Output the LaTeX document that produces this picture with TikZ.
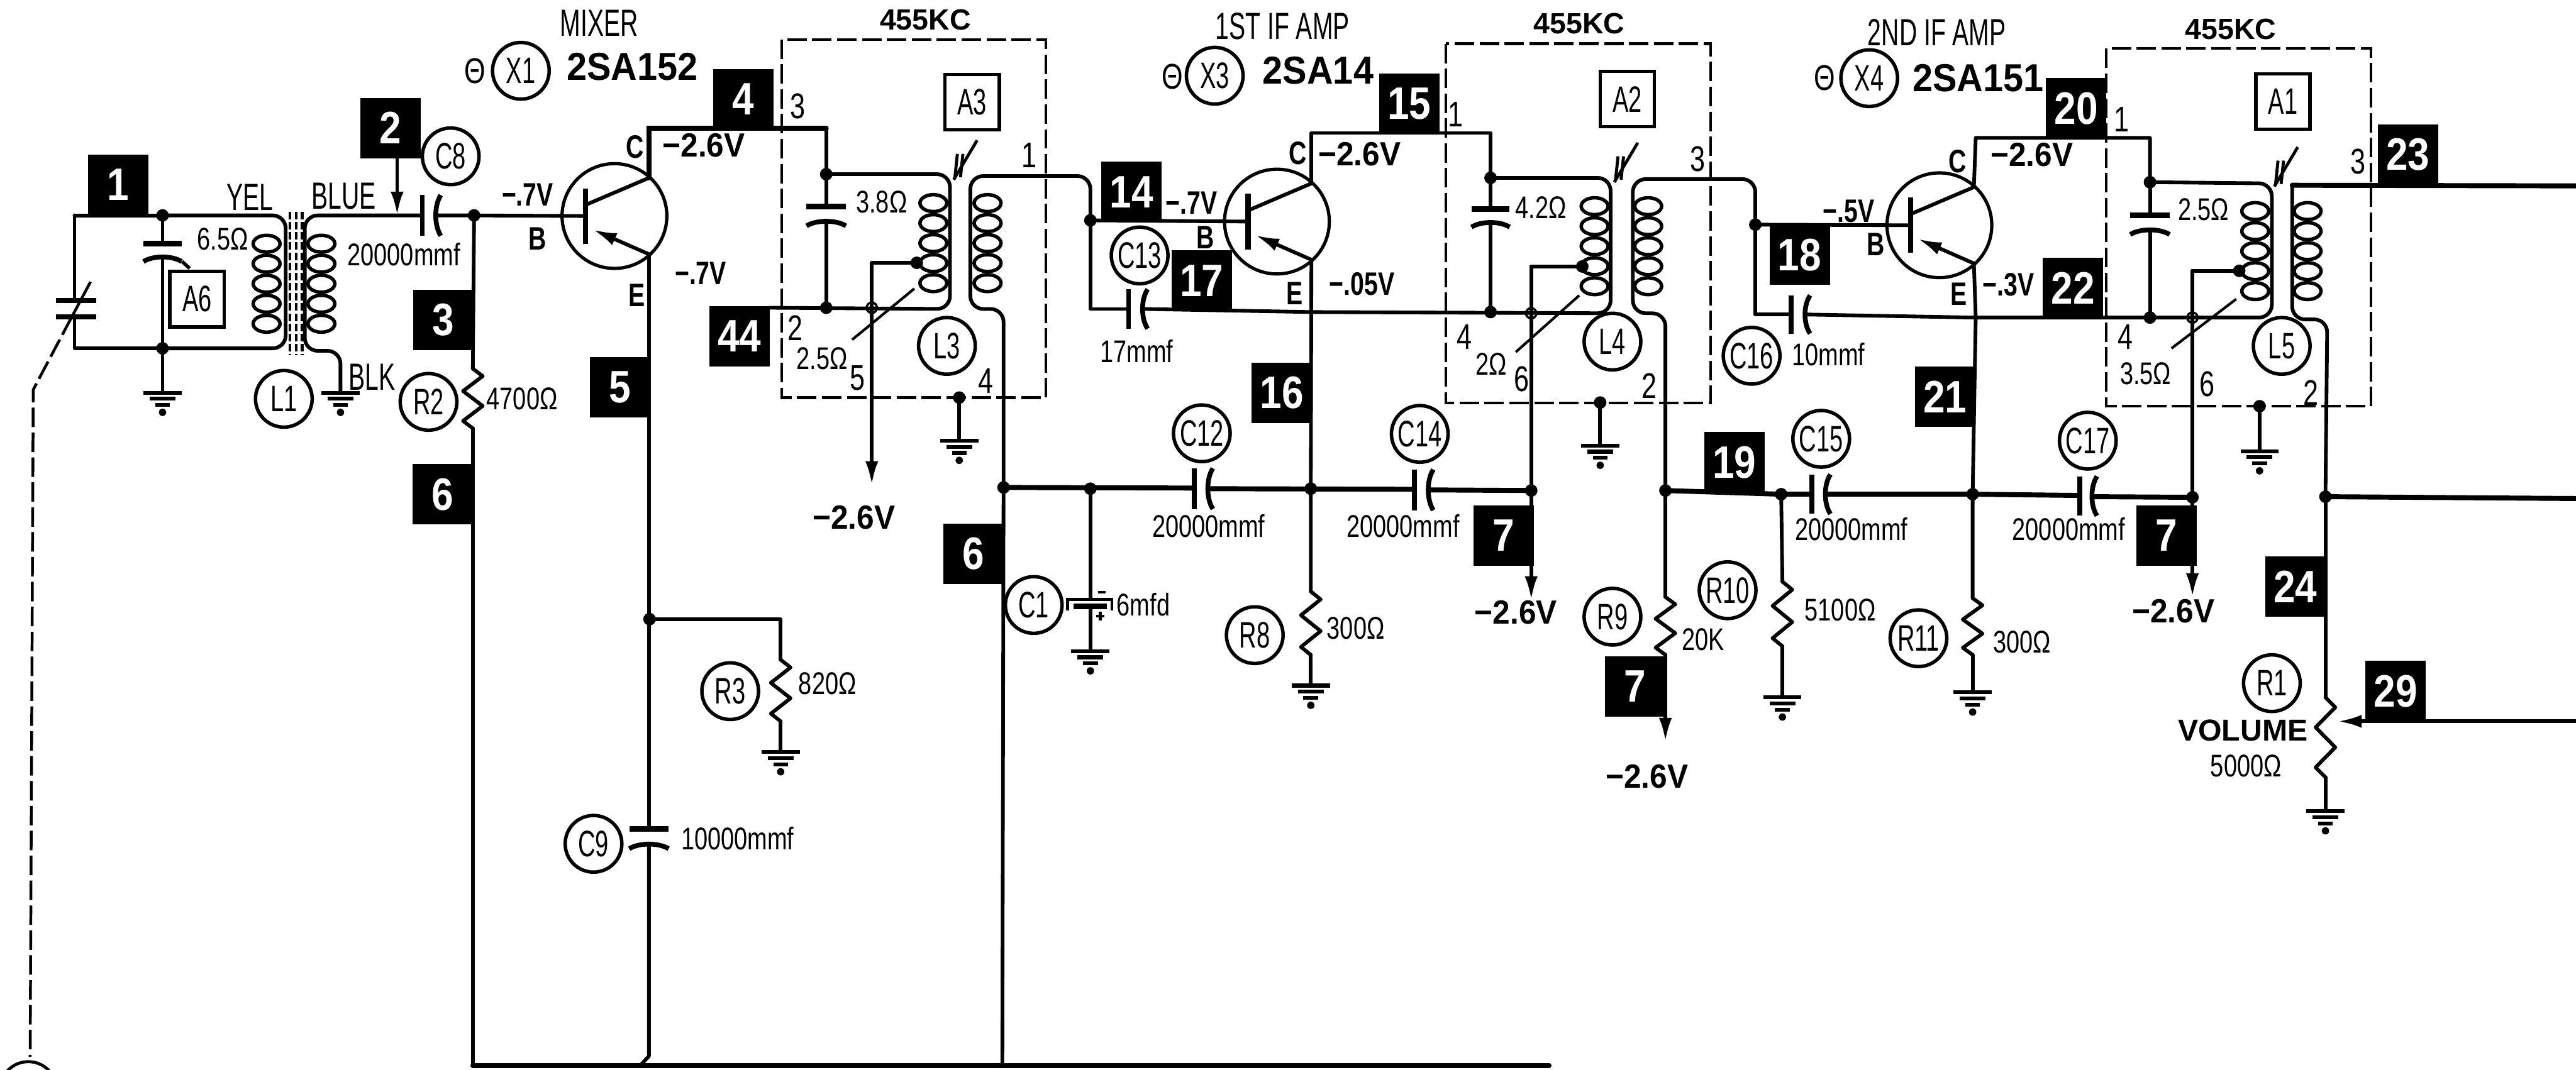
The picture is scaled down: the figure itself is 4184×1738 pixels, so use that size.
\documentclass[tikz,border=0pt]{standalone}
\usepackage{fontspec}
\usetikzlibrary{arrows.meta}
\setmainfont{Liberation Sans}
\newfontfamily\fa[FakeStretch=0.65]{Liberation Sans}
\newfontfamily\fb[FakeStretch=0.76]{Liberation Sans}
\newfontfamily\fc[FakeStretch=0.93]{Liberation Sans}
\newfontfamily\fn[FakeStretch=0.86]{Liberation Sans}
\newcommand\fsz[1]{\fontsize{#1pt}{#1pt}\selectfont}
\tikzset{
  wire/.style={line width=1.7pt,line join=round,line cap=round},
  lead/.style={wire,rounded corners=6pt},
  heavy/.style={line width=2.3pt,line cap=round},
  arr/.style={-{Latex[length=11pt,width=6pt]}},
  numbox/.style={fill=black,text=white,inner sep=0pt,minimum width=.98cm,minimum height=.98cm,font=\fn\bfseries\fsz{21}},
  refc/.style={draw,circle,line width=1.6pt,inner sep=0pt,minimum size=.92cm,font=\fa\fsz{17}},
  refb/.style={draw,line width=1.6pt,inner sep=0pt,minimum width=.88cm,minimum height=.9cm,font=\fa\fsz{17}},
  tall/.style={inner sep=0pt,font=\fa\fsz{17.5}},
  val/.style={inner sep=0pt,font=\fb\fsz{14.5}},
  pin/.style={inner sep=0pt,font=\fb\fsz{16.5}},
  volt/.style={inner sep=0pt,font=\fc\bfseries\fsz{15.5}},
  tap/.style={inner sep=0pt,font=\fb\bfseries\fsz{15}},
  term/.style={inner sep=0pt,font=\fb\bfseries\fsz{15}},
  head/.style={inner sep=0pt,font=\bfseries\fsz{13.5}},
  type/.style={inner sep=0pt,font=\fc\bfseries\fsz{18}},
  canbox/.style={line width=1.2pt,dash pattern=on 9pt off 2.5pt},
  trans/.pic={
    \draw[line width=1.5pt] (0,0) circle[radius=24.2pt];
    \draw[line width=2.4pt] (-47,-45) -- (-47,45);
    \coordinate (-c) at (56,-62);
    \coordinate (-e) at (56,62);
    \coordinate (-b) at (-47,0);
    \draw[wire] (-47,-18) -- (-c);
    \draw[wire,arr] (-e) -- (-35,22);
  },
  gnd/.pic={
    \draw[line width=1.8pt] (-31,0) -- (31,0);
    \draw[line width=1.8pt] (-21,10) -- (21,10);
    \draw[line width=1.8pt] (-12,20) -- (12,20);
    \fill (0,32) circle[radius=1.7pt];
  },
  coilstack/.pic={
    \foreach \k in {0,...,4}
      \draw[line width=1.6pt] (0,\k*32.5) ellipse[x radius=6.2pt,y radius=3.9pt];
  },
  slug/.pic={
    \draw[line width=1.4pt] (-10,22) -- (-6,-16);
    \draw[line width=1.4pt] (-1,22) -- (3,-16);
    \draw[line width=1.4pt] (-12,26) -- (26,-38);
  },
}
\newcommand\res[3]{%
  \pgfmathsetmacro\rst{(#3-#2)/8}%
  \draw[wire] (#1,#2) -- ++(16,\rst) -- ++(-32,2*\rst) -- ++(32,2*\rst) -- ++(-32,2*\rst) -- ++(16,\rst);}
\newcommand\capH[4]{% y, x flat, x curved, half height
  \draw[line width=2.2pt] (#2,#1-#4) -- (#2,#1+#4);
  \draw[line width=2.2pt] (#3+6,#1-#4) .. controls (#3-5,#1-#4/2) and (#3-5,#1+#4/2) .. (#3+6,#1+#4);}
\newcommand\capV[4]{% x, y flat, y curved, half width
  \draw[line width=2.6pt] (#1-#4,#2) -- (#1+#4,#2);
  \draw[line width=2.2pt] (#1-#4,#3+6) .. controls (#1-#4/2,#3-4) and (#1+#4/2,#3-4) .. (#1+#4,#3+6);}
\begin{document}
\begin{tikzpicture}[x=0.01cm,y=-0.01cm]
\useasboundingbox (0,0) rectangle (4184,1738);
\clip (0,0) rectangle (4184,1738);
\fill[white] (0,0) rectangle (4184,1738);

% ---------- junctions
\coordinate (a1) at (121,350);  \coordinate (a2) at (264,350);
\coordinate (a3) at (121,566);  \coordinate (a4) at (264,566);
\coordinate (b1) at (686,350);  \coordinate (b2) at (645,350);
\coordinate (b3) at (710,350);  \coordinate (b4) at (770,350);
\coordinate (b5) at (553,638);
\coordinate (s1) at (264,638);
\coordinate (bl) at (768,1731); \coordinate (bm) at (1040,1731);
\coordinate (bc) at (1628,1731);\coordinate (br) at (2516,1731);
\coordinate (e1) at (1055,1006);\coordinate (e2) at (1268,1006);
\coordinate (c1) at (1342,208); \coordinate (c2) at (1342,283);
\coordinate (c3) at (1342,500); \coordinate (c4) at (1250,500);
\coordinate (t1) at (1489,427); \coordinate (t2) at (1416,427);
\coordinate (t3) at (1416,788); \coordinate (t4) at (1416,500);
\coordinate (g1) at (1558,646); \coordinate (g1b) at (1558,716);
\coordinate (d1) at (1771,358); \coordinate (d2) at (1630,792);
\coordinate (d3) at (1771,794); \coordinate (d4) at (2129,794);
\coordinate (d5) at (2487,797); \coordinate (d6) at (2705,797);
\coordinate (d7) at (2893,803); \coordinate (d8) at (3204,803);
\coordinate (d9) at (3561,808); \coordinate (d10) at (3777,807);
\coordinate (f1) at (2421,216); \coordinate (f2) at (2421,289);
\coordinate (f3) at (2421,507); \coordinate (f4) at (2130,507);
\coordinate (u1) at (2570,433); \coordinate (u2) at (2487,433);
\coordinate (u3) at (2487,975); \coordinate (u4) at (2487,509);
\coordinate (g2) at (2599,654); \coordinate (g2b) at (2599,724);
\coordinate (h1) at (2851,365); \coordinate (k1) at (3492,224);
\coordinate (k2) at (3492,296); \coordinate (k3) at (3492,516);
\coordinate (k4) at (3209,516);
\coordinate (v1) at (3637,440); \coordinate (v2) at (3561,440);
\coordinate (v3) at (3561,970); \coordinate (v4) at (3561,516);
\coordinate (g3) at (3670,660); \coordinate (g3b) at (3670,733);
\coordinate (w1) at (3797,1172);\coordinate (w2) at (4184,1172);
\coordinate (o1) at (4184,302); \coordinate (o2) at (4184,810);

% ---------- tuned boxes
\draw[canbox] (1270,64) rectangle (1699,646);
\draw[canbox] (2348,71) rectangle (2778,655);
\draw[canbox] (3421,79) rectangle (3851,660);

% ---------- input stage
\draw[wire] (a1) -- (a2);
\draw[wire] (a1) -- (121,488);
\draw[wire] (121,515) -- (a3) -- (a4);
\draw[line width=2.4pt] (91,488) -- (156,488);
\draw[line width=2.4pt] (91,515) -- (156,515);
\draw[line width=1.3pt] (147,458) -- (116,516);
\draw[line width=1.3pt,dash pattern=on 9pt off 2.5pt] (116,516) -- (54,633) -- (49,1717);
\draw[line width=1.4pt] (46,1771) circle[radius=.46cm];
\draw[wire] (a2) -- (264,396);
\draw[wire] (264,419) -- (a4) -- (s1);
\capV{264}{396}{419}{31}
\draw[line width=1.6pt] (296,425) -- (308,436);
\pic at (s1) {gnd};
\pic at (b5) {gnd};
\pic at (433,396) {coilstack};
\pic at (522,396) {coilstack};
\draw[lead] (a2) -- (464,350) -- (464,566) -- (a4);
\draw[lead] (b1) -- (495,350) -- (495,570) -- (553,570) -- (b5);
\foreach \x in {471,481,491}
  \draw[line width=1.3pt,dash pattern=on 3.5pt off 1.2pt] (\x,344) -- (\x,577);
\capH{350}{686}{710}{33}
\pic (x1) at (998,351) {trans};
\draw[wire] (b3) -- (b4) -- (x1-b);
\draw[wire] (b4) -- (768,599);
\res{768}{599}{696}
\draw[wire] (768,696) -- (bl);
\draw[heavy] (bl) -- (br);
\draw[wire] (x1-e) -- (1054,1347);
\draw[wire] (1054,1373) -- (1054,1716) -- (bm);
\capV{1054}{1347}{1373}{32}
\draw[wire] (e1) -- (e2) -- (1268,1072);
\res{1268}{1072}{1172}
\draw[wire] (1268,1172) -- (1268,1222);
\pic at (1268,1222) {gnd};
\draw[heavy] (x1-c) |- (c1);
\draw[wire] (c1) -- (c2);

% ---------- L3
\draw[lead] (c2) -- (1543,283) -- (1543,502) -- (c4);
\draw[wire] (c2) -- (1342,336);
\draw[wire] (1342,361) -- (c3);
\capV{1342}{336}{361}{32}
\pic at (1516,330) {coilstack};
\pic at (1604,330) {coilstack};
\pic at (1561,266) {slug};
\draw[lead] (d1) -- (1771,286) -- (1576,286) -- (1576,502) -- (1630,502) -- (d2);
\draw[wire] (d2) -- (bc);
\draw[wire] (t1) -- (t2);
\draw[wire,arr] (t2) -- (t3);
\draw[line width=1.2pt] (1485,469) -- (1384,552);
\draw[wire] (g1) -- (g1b);
\pic at (g1b) {gnd};

% ---------- 1st IF
\pic (x3) at (2074,360) {trans};
\draw[wire] (d1) -- (x3-b);
\draw[wire] (d1) -- (1771,502) -- (1833,502);
\capH{502}{1833}{1858}{32}
\draw[wire] (1858,502) -- (f4);
\draw[heavy] (d2) -- (1940,793);
\capH{794}{1940}{1964}{33}
\draw[heavy] (1964,794) -- (2297,795);
\capH{796}{2297}{2322}{33}
\draw[heavy] (2322,796) -- (d5);
\draw[wire] (d3) -- (1771,972);
\draw[wire] (1771,985) -- (1771,1058);
\draw[line width=1.3pt] (1734,992) -- (1734,974) -- (1806,974) -- (1806,992);
\draw[line width=2.6pt] (1744,985) -- (1798,985);
\draw[line width=1.2pt] (1784,962) -- (1796,962);
\draw[line width=1.2pt] (1780,1001) -- (1794,1001) (1787,994) -- (1787,1008);
\pic at (1771,1058) {gnd};
\draw[wire] (x3-e) -- (d4) -- (2129,961);
\res{2129}{961}{1064}
\draw[wire] (2129,1064) -- (2129,1114);
\pic at (2129,1114) {gnd};
\draw[wire] (x3-c) |- (f1) -- (f2);
\draw[wire] (f2) -- (2421,340);
\draw[wire] (2421,363) -- (f3);
\capV{2421}{340}{363}{31}

% ---------- L4
\draw[lead] (f2) -- (2616,289) -- (2616,509) -- (f4);
\pic at (2590,335) {coilstack};
\pic at (2677,335) {coilstack};
\pic at (2634,270) {slug};
\draw[wire] (u1) -- (u2);
\draw[wire,arr] (u2) -- (u3);
\draw[line width=1.2pt] (2565,480) -- (2462,572);
\draw[lead] (d6) -- (2705,509) -- (2652,509) -- (2652,291) -- (2851,291) -- (h1);
\draw[wire] (g2) -- (g2b);
\pic at (g2b) {gnd};
\draw[wire] (d6) -- (2705,970);
\res{2705}{970}{1064}
\draw[wire,arr] (2705,1064) -- (2705,1205);

% ---------- 2nd IF
\pic (x4) at (3150,366) {trans};
\draw[wire] (h1) -- (x4-b);
\draw[wire] (h1) -- (2851,511) -- (2909,511);
\capH{511}{2909}{2934}{31}
\draw[wire] (2934,511) -- (k4);
\draw[heavy] (d6) -- (d7) -- (2943,803);
\capH{803}{2943}{2967}{32}
\draw[heavy] (2967,803) -- (d8) -- (3378,805);
\capH{806}{3378}{3400}{32}
\draw[heavy] (3400,807) -- (d9);
\draw[wire] (d7) -- (2895,945);
\res{2895}{945}{1050}
\draw[wire] (2895,1050) -- (2895,1133);
\pic at (2895,1133) {gnd};
\draw[wire] (x4-e) -- (k4) -- (d8) -- (3204,972);
\res{3204}{972}{1064}
\draw[wire] (3204,1064) -- (3204,1125);
\pic at (3204,1125) {gnd};
\draw[wire] (x4-c) -- (3209,224) -- (k1) -- (k2);
\draw[wire] (k2) -- (3492,350);
\draw[wire] (3492,375) -- (k3);
\capV{3492}{350}{375}{32}

% ---------- L5
\draw[lead] (k2) -- (3690,298) -- (3690,516) -- (k4);
\pic at (3663,343) {coilstack};
\pic at (3748,343) {coilstack};
\pic at (3706,277) {slug};
\draw[wire] (v1) -- (v2);
\draw[wire,arr] (v2) -- (v3);
\draw[line width=1.2pt] (3632,486) -- (3527,566);
\draw[heavy] (3723,301) -- (o1);
\draw[lead] (3723,301) -- (3723,519) -- (3780,519) -- (d10);
\draw[heavy] (d10) -- (o2);
\draw[wire] (d10) -- (3777,1133);
\res{3777}{1133}{1263}
\draw[wire] (3777,1263) -- (3777,1318);
\pic at (3777,1318) {gnd};
\draw[wire] (g3) -- (g3b);
\pic at (g3b) {gnd};

% ---------- dots and crossings
\foreach \p in {a2,a4,b4,e1,c2,c3,t1,g1,d1,d2,d3,d4,d5,d6,d7,d8,d9,d10,f2,f3,u1,g2,h1,k2,k3,v1,g3}
  \fill (\p) circle[radius=2.9pt];
\foreach \p in {t4,u4,v4}
  \draw[line width=1pt] (\p) circle[radius=2.4pt];

% ---------- block numbers
\node[numbox] (n1) at (192,300) {1};
\node[numbox] (n2) at (634,208) {2};
\node[numbox] (n3) at (720,520) {3};
\node[numbox] (n6a) at (719,803) {6};
\node[numbox] (n4) at (1207,161) {4};
\node[numbox] (n5) at (1007,629) {5};
\node[numbox] (n44) at (1201,546) {44};
\node[numbox] (n14) at (1838,312) {14};
\node[numbox] (n15) at (2289,169) {15};
\node[numbox] (n16) at (2082,638) {16};
\node[numbox] (n17) at (1952,456) {17};
\node[numbox] (n6b) at (1581,900) {6};
\node[numbox] (n7a) at (2442,870) {7};
\node[numbox] (n7b) at (2656,1115) {7};
\node[numbox] (n18) at (2923,414) {18};
\node[numbox] (n19) at (2817,751) {19};
\node[numbox] (n20) at (3372,176) {20};
\node[numbox] (n21) at (3159,645) {21};
\node[numbox] (n22) at (3367,468) {22};
\node[numbox] (n23) at (3911,251) {23};
\node[numbox] (n24) at (3728,953) {24};
\node[numbox] (n29) at (3891,1123) {29};
\node[numbox] (n7c) at (3519,870) {7};
\draw[wire,arr] (n2.south -| b2) -- (b2);
\draw[wire,arr] (w2) -- (w1);

% ---------- reference circles and boxes
\node[refc] (rX1) at (846,115) {X1};
\node[refc] (rC8) at (732,254) {C8};
\node[refc] (rL1) at (461,648) {L1};
\node[refc] (rR2) at (696,653) {R2};
\node[refc] (rR3) at (1186,1123) {R3};
\node[refc] (rC9) at (964,1371) {C9};
\node[refc] (rL3) at (1538,562) {L3};
\node[refc] (rX3) at (1973,123) {X3};
\node[refc] (rC13) at (1851,415) {C13};
\node[refc] (rC12) at (1952,704) {C12};
\node[refc] (rC14) at (2306,705) {C14};
\node[refc] (rC1) at (1679,983) {C1};
\node[refc] (rR8) at (2038,1032) {R8};
\node[refc] (rL4) at (2619,555) {L4};
\node[refc] (rR9) at (2619,1002) {R9};
\node[refc] (rR10) at (2806,959) {R10};
\node[refc] (rX4) at (3036,127) {X4};
\node[refc] (rC16) at (2845,578) {C16};
\node[refc] (rC15) at (2958,713) {C15};
\node[refc] (rC17) at (3391,716) {C17};
\node[refc] (rR11) at (3116,1037) {R11};
\node[refc] (rL5) at (3706,562) {L5};
\node[refc] (rR1) at (3690,1110) {R1};
\node[refb] (bA6) at (320,486) {A6};
\node[refb] (bA3) at (1579,166) {A3};
\node[refb] (bA2) at (2643,161) {A2};
\node[refb] (bA1) at (3708,165) {A1};

% ---------- titles
\node[tall] (mixer) at (973,38) {MIXER};
\node[tall] (if1) at (2083,43) {1ST IF AMP};
\node[tall] (if2) at (3146,53) {2ND IF AMP};
\node[type] (sa1) at (1027,108) {2SA152};
\node[type] (sa2) at (2141,115) {2SA14};
\node[type] (sa3) at (3213,127) {2SA151};
\node[head] (kc1) at (1503,32) {455KC};
\node[head] (kc2) at (2565,38) {455KC};
\node[head] (kc3) at (3623,47) {455KC};
\node[pin] (th1) at (772,115) {Θ};
\node[pin] (th2) at (1904,125) {Θ};
\node[pin] (th3) at (2964,127) {Θ};

% ---------- labels
\node[tall] (yel) at (406,321) {YEL};
\node[tall] (blue) at (558,319) {BLUE};
\node[tall] (blk) at (604,613) {BLK};
\node[val] (v65) at (362,388) {6.5Ω};
\node[val] (v20a) at (656,413) {20000mmf};
\node[val] (v47) at (848,648) {4700Ω};
\node[val] (v820) at (1344,1111) {820Ω};
\node[val] (v10) at (1198,1362) {10000mmf};
\node[val] (v38) at (1432,328) {3.8Ω};
\node[val] (v25a) at (1335,583) {2.5Ω};
\node[val] (v17) at (1846,570) {17mmf};
\node[val] (v20b) at (1963,855) {20000mmf};
\node[val] (v20c) at (2279,855) {20000mmf};
\node[val] (v6) at (1857,982) {6mfd};
\node[val] (v300a) at (2202,1021) {300Ω};
\node[val] (v42) at (2503,337) {4.2Ω};
\node[val] (v2) at (2422,591) {2Ω};
\node[val] (v20k) at (2766,1039) {20K};
\node[val] (v10m) at (2970,576) {10mmf};
\node[val] (v20d) at (3007,860) {20000mmf};
\node[val] (v20e) at (3360,860) {20000mmf};
\node[val] (v51) at (2989,991) {5100Ω};
\node[val] (v300b) at (3284,1043) {300Ω};
\node[val] (v25b) at (3579,340) {2.5Ω};
\node[val] (v35) at (3485,607) {3.5Ω};
\node[val] (v50) at (3648,1244) {5000Ω};
\node[inner sep=0pt,font=\bfseries\fsz{14}] (vol) at (3643,1187) {VOLUME};

\node[pin] (p3a) at (1296,173) {3};
\node[pin] (p2a) at (1292,533) {2};
\node[pin] (p5a) at (1393,614) {5};
\node[pin] (p4a) at (1601,619) {4};
\node[pin] (p1a) at (1672,252) {1};
\node[pin] (p1b) at (2364,186) {1};
\node[pin] (p3b) at (2757,258) {3};
\node[pin] (p4b) at (2379,547) {4};
\node[pin] (p6b) at (2471,616) {6};
\node[pin] (p2b) at (2679,627) {2};
\node[pin] (p1c) at (3446,194) {1};
\node[pin] (p3c) at (3830,262) {3};
\node[pin] (p4c) at (3452,547) {4};
\node[pin] (p6c) at (3585,624) {6};
\node[pin] (p2c) at (3753,638) {2};

\node[term] (tC1) at (1031,239) {C};
\node[term] (tB1) at (873,388) {B};
\node[term] (tE1) at (1034,480) {E};
\node[term] (tC3) at (2108,249) {C};
\node[term] (tB3) at (1958,386) {B};
\node[term] (tE3) at (2103,477) {E};
\node[term] (tC4) at (3180,262) {C};
\node[term] (tB4) at (3047,397) {B};
\node[term] (tE4) at (3181,478) {E};

\node[volt] (va) at (1143,236) {−2.6V};
\node[volt] (vb) at (1387,841) {−2.6V};
\node[volt] (vc) at (2208,250) {−2.6V};
\node[volt] (vd) at (2462,995) {−2.6V};
\node[volt] (ve) at (2675,1262) {−2.6V};
\node[volt] (vf) at (3300,251) {−2.6V};
\node[volt] (vg) at (3530,993) {−2.6V};
\node[tap] (ta) at (857,316) {−.7V};
\node[tap] (tb) at (1138,444) {−.7V};
\node[tap] (tc) at (1935,330) {−.7V};
\node[tap] (td) at (2212,461) {−.05V};
\node[tap] (te) at (3003,343) {−.5V};
\node[tap] (tf) at (3262,462) {−.3V};
\end{tikzpicture}
\end{document}
